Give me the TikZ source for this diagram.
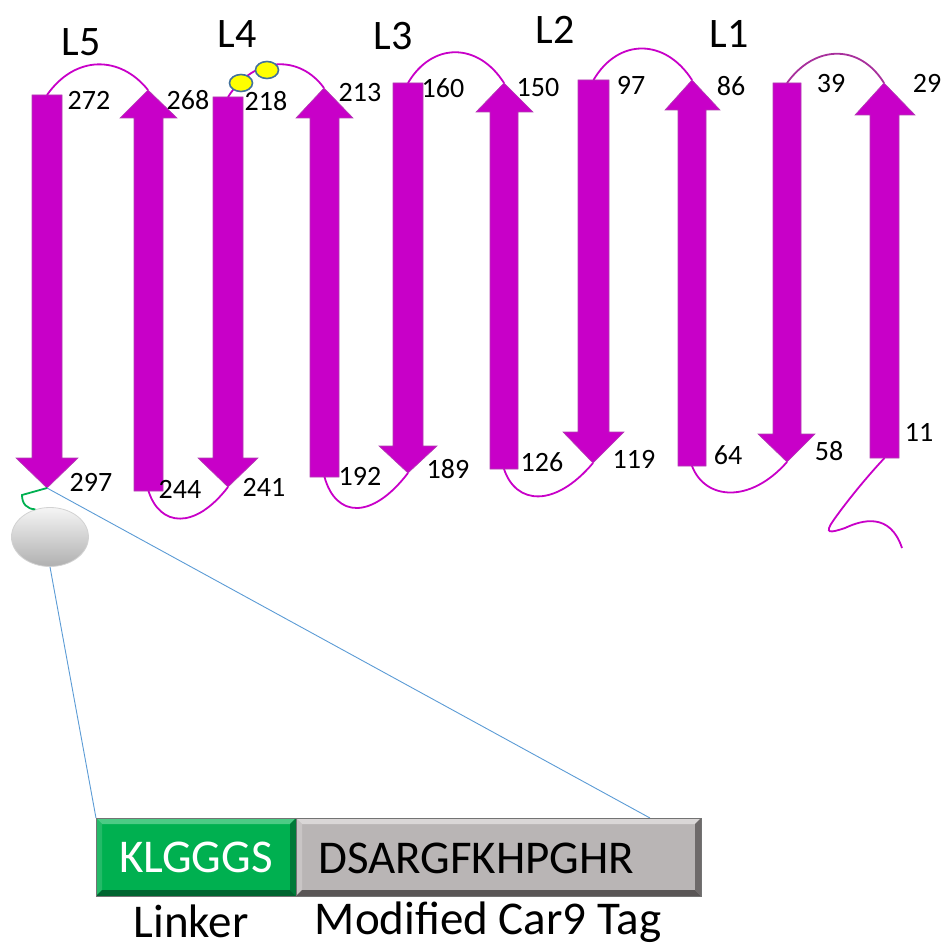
\documentclass[tikz,border=0pt]{standalone}
\usepackage{fontspec}
\setmainfont{Carlito}
\usetikzlibrary{shapes.geometric,calc}

\definecolor{strandcol}{HTML}{C800C8}
\definecolor{strandedge}{HTML}{B040B0}
\definecolor{turncol}{HTML}{C800C8}
\definecolor{turndark}{HTML}{A8309C}
\definecolor{wiregreen}{HTML}{00B050}
\definecolor{guide}{HTML}{5B9BD5}
\definecolor{ssyellow}{HTML}{FFFF00}
\definecolor{ssedge}{HTML}{41719C}
\definecolor{tagface}{HTML}{B9B5B5}
\definecolor{greenface}{HTML}{00B050}
\definecolor{greentop}{HTML}{4CCB85}
\definecolor{greenleft}{HTML}{24BA68}
\definecolor{greenright}{HTML}{007A38}
\definecolor{greenbottom}{HTML}{006530}
\definecolor{tagtop}{HTML}{DAD7D7}
\definecolor{tagleft}{HTML}{C9C5C5}
\definecolor{tagright}{HTML}{6E6A6A}
\definecolor{tagbottom}{HTML}{5A5656}

\tikzset{
  strand/.style={fill=strandcol, draw=strandedge, line width=0.6pt},
  turn/.style={draw=turncol, line width=1.8pt},
  wire/.style={draw=wiregreen, line width=1.8pt},
  guideline/.style={draw=guide, line width=0.9pt},
  ssbond/.style={ellipse, fill=ssyellow, draw=ssedge, line width=1.6pt,
    minimum width=23pt, minimum height=17pt, inner sep=0pt},
  loopname/.style={font=\fontsize{42}{46}\selectfont, inner sep=0pt},
  resnum/.style={font=\fontsize{28}{30}\selectfont, inner sep=0pt},
  boxbar/.style={rectangle, minimum height=78pt, inner sep=0pt, outer sep=0pt},
  bigtext/.style={font=\fontsize{47}{50}\selectfont, inner sep=0pt},
  bead/.style={ellipse, minimum width=77pt, minimum height=59pt, inner sep=0pt,
    shading=axis, top color=white!92!gray, middle color=gray!45,
    bottom color=gray!62, draw=gray!35, line width=0.8pt},
}

% one beta strand: name, left x, right x, body end y, head base y,
% head left x, head right x, tip x, tip y
\newcommand{\betastrand}[9]{%
  \path[strand] (#2,#4) -- (#3,#4) -- (#3,#5) -- (#7,#5) -- (#8,#9)
    -- (#6,#5) -- (#2,#5) -- cycle;
  \coordinate (#1-end) at ({(#2+#3)/2},#4);
  \coordinate (#1-tip) at (#8,#9);
}

% bevelled edges of a bar: node, top, left, right, bottom colours
\newcommand{\bevelbar}[5]{%
  \fill[#2] (#1.north west) -- (#1.north east) -- ($(#1.north east)+(-6,6)$)
    -- ($(#1.north west)+(6,6)$) -- cycle;
  \fill[#3] (#1.north west) -- ($(#1.north west)+(6,6)$)
    -- ($(#1.south west)+(6,-6)$) -- (#1.south west) -- cycle;
  \fill[#4] (#1.north east) -- (#1.south east) -- ($(#1.south east)+(-6,-6)$)
    -- ($(#1.north east)+(-6,6)$) -- cycle;
  \fill[#5] (#1.south west) -- (#1.south east) -- ($(#1.south east)+(-6,-6)$)
    -- ($(#1.south west)+(6,-6)$) -- cycle;
  \draw[black!55, line width=0.8pt] (#1.north west) rectangle (#1.south east);
}

\begin{document}
\begin{tikzpicture}[x=1pt, y=-1pt]
\useasboundingbox (0,0) rectangle (944,947);

\node[bead] (bead) at (50,537) {};
\node[boxbar, minimum width=200pt, fill=greenface] (linker) at (196,857) {};
\node[boxbar, minimum width=405pt, fill=tagface] (tag) at (498.5,857) {};
\coordinate (tagmark) at ($(tag.north west)!0.874!(tag.north east)$);

% strands, C-terminal (left) to N-terminal (right)
\betastrand{s1}{32}{62}{95}{458}{16}{78}{47}{488}
\betastrand{s2}{134}{163}{491}{118}{120}{177}{148}{90}
\betastrand{s3}{213}{243}{97}{458}{198}{258}{228}{487}
\betastrand{s4}{310}{339}{477}{118}{296}{353}{324}{88}
\betastrand{s5}{393}{423}{83}{446}{379}{437}{408}{473}
\betastrand{s6}{490}{518}{469}{112}{476}{533}{504}{83}
\betastrand{s7}{578}{609}{80}{432}{563}{624}{593}{463}
\betastrand{s8}{678}{706}{466}{110}{665}{720}{692}{80}
\betastrand{s9}{773}{801}{83}{434}{758}{815}{787}{462}
\betastrand{s10}{870}{899}{458}{115}{855}{915}{884}{83}

% guide lines from the C-terminus to the tag
\draw[guideline] (bead.south) -- (linker.north west);
\draw[guideline] (s1-tip) -- (tagmark);

% extracellular loops
\draw[turn] (s1-end) .. controls (75,55) and (120,55) .. (s2-tip);
\draw[turn] (s3-end) .. controls (255,55) and (300,55) .. (s4-tip);
\draw[turn] (s5-end) .. controls (432,42) and (478,42) .. (s6-tip);
\draw[turn] (s7-end) .. controls (618,38) and (665,38) .. (s8-tip);
\draw[turn, draw=turndark] (s9-end) .. controls (815,44) and (860,44) .. (s10-tip);

% periplasmic turns
\draw[turn] (s2-end) .. controls (160,527) and (195,530) .. (s3-tip);
\draw[turn] (s4-end) .. controls (336,518) and (372,520) .. (s5-tip);
\draw[turn] (s6-end) .. controls (516,505) and (555,508) .. (s7-tip);
\draw[turn] (s8-end) .. controls (705,500) and (750,504) .. (s9-tip);

% N-terminal tail
\coordinate (ntail) at (902,548);
\draw[turn] (s10-end) .. controls (862,482) and (842,508) .. (833,521)
  .. controls (824,534) and (830,533) .. (845,528)
  .. controls (862,520) and (890,512) .. (ntail);

% disulfide in loop 4
\node[ssbond] (ss1) at (241,83) {};
\node[ssbond] (ss2) at (267,70) {};

% linker to the bead
\coordinate (kink) at (22,495);
\draw[wire] (s1-tip) -- (kink) .. controls (22,504) and (27,509) .. (bead.118);

% loop names
\node[loopname] (n5) at (81,42) {L5};
\node[loopname] (n4) at (237,34) {L4};
\node[loopname] (n3) at (393,36) {L3};
\node[loopname] (n2) at (555,30) {L2};
\node[loopname] (n1) at (729,34) {L1};

% residue numbers
\node[resnum] (r272) at (89,100) {272};
\node[resnum] (r268) at (188,100) {268};
\node[resnum] (r218) at (266,101) {218};
\node[resnum] (r213) at (360,93) {213};
\node[resnum] (r160) at (443,88) {160};
\node[resnum] (r150) at (538,88) {150};
\node[resnum] (r97) at (631,85) {97};
\node[resnum] (r86) at (731,86) {86};
\node[resnum] (r39) at (831,84) {39};
\node[resnum] (r29) at (927,83) {29};
\node[resnum] (r297) at (91,482) {297};
\node[resnum] (r244) at (180,489) {244};
\node[resnum] (r241) at (264,487) {241};
\node[resnum] (r192) at (360,476) {192};
\node[resnum] (r189) at (448,469) {189};
\node[resnum] (r126) at (542,462) {126};
\node[resnum] (r119) at (634,459) {119};
\node[resnum] (r64) at (728,455) {64};
\node[resnum] (r58) at (829,451) {58};
\node[resnum] (r11) at (919,432) {11};

% tag bars
\bevelbar{linker}{greentop}{greenleft}{greenright}{greenbottom}
\bevelbar{tag}{tagtop}{tagleft}{tagright}{tagbottom}
\node[bigtext, text=white] (klg) at (linker) {KLGGGS};
\node[bigtext, anchor=west] (dsa) at (318,858) {DSARGFKHPGHR};
\node[bigtext, anchor=base] (lnk) at (191,937) {Linker};
\node[bigtext, anchor=base] (car) at (488,934) {Modified Car9 Tag};
\end{tikzpicture}
\end{document}
